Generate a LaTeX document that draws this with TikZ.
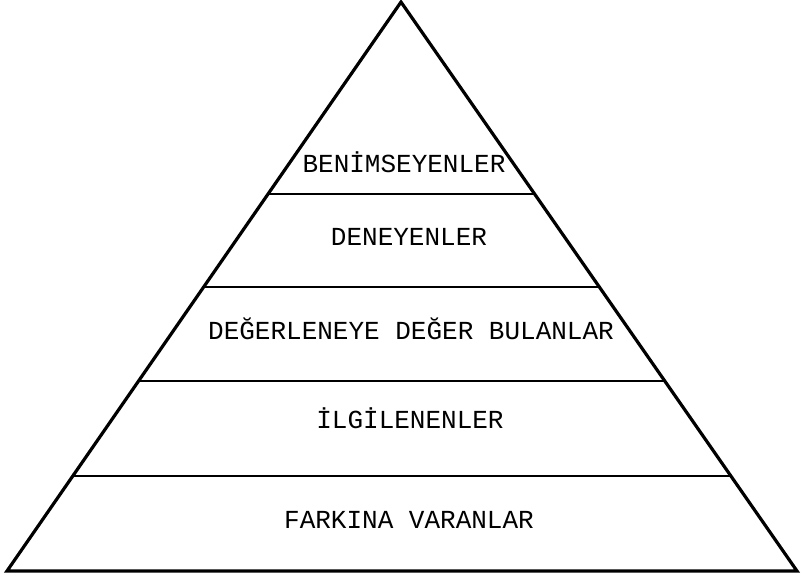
\documentclass[tikz,border=0pt]{standalone}
\usepackage{fontspec}
\setmonofont{Liberation Mono}
\usetikzlibrary{positioning}
\usetikzlibrary{calc}

\begin{document}
\begin{tikzpicture}[x=1pt,y=-1pt]
	\tikzstyle{layer}=[font=\ttfamily\fontsize{26}{30}\selectfont, inner sep=0pt, anchor=base]
	\tikzstyle{side}=[line width=3.2pt, line join=miter]
	\tikzstyle{cut}=[line width=2pt]

	\useasboundingbox (0,0) rectangle (801,579);

	\coordinate (top) at (401,2);
	\coordinate (bl) at (7,571);
	\coordinate (br) at (797,571);
	\draw [side] (bl) -- (top) -- (br) -- cycle;

	% kesme cizgileri
	\coordinate (l1) at ($(bl)!0.6626!(top)$);
	\coordinate (r1) at ($(br)!0.6626!(top)$);
	\coordinate (l2) at ($(bl)!0.4991!(top)$);
	\coordinate (r2) at ($(br)!0.4991!(top)$);
	\coordinate (l3) at ($(bl)!0.3339!(top)$);
	\coordinate (r3) at ($(br)!0.3339!(top)$);
	\coordinate (l4) at ($(bl)!0.1670!(top)$);
	\coordinate (r4) at ($(br)!0.1670!(top)$);

	\draw [cut] (l1) -- (r1);
	\draw [cut] (l2) -- (r2);
	\draw [cut] (l3) -- (r3);
	\draw [cut] (l4) -- (r4);

	\node [layer] (benimseyen) at (404,172) {BENİMSEYENLER};
	\node [layer] (deneyen) at (409,245) {DENEYENLER};
	\node [layer] (degerleyen) at (411,339) {DEĞERLENEYE DEĞER BULANLAR};
	\node [layer] (ilgilenen) at (410,428) {İLGİLENENLER};
	\node [layer] (farkinda) at (409,528) {FARKINA VARANLAR};
\end{tikzpicture}
\end{document}
